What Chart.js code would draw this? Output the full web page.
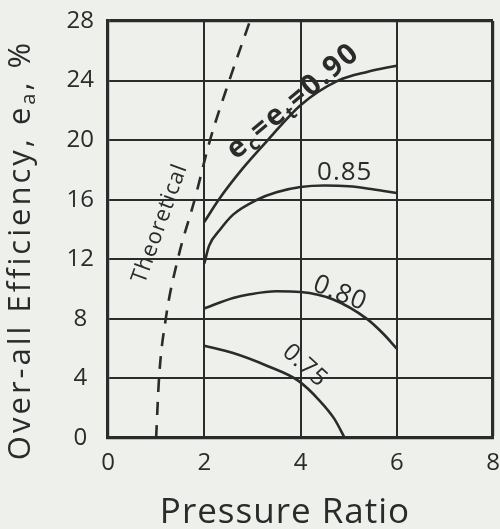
<!DOCTYPE html>
<html><head><meta charset="utf-8">
<script src="https://cdn.jsdelivr.net/npm/chart.js@4.4.1/dist/chart.umd.min.js"></script>
<style>html,body{margin:0;padding:0;background:#eef0ec;overflow:hidden}canvas{display:block}</style>
</head><body>
<canvas id="c" width="500" height="529"></canvas>
<script>
// ---- data ----
const xTickLabels = ['0','2','4','6','8'];
const yTickLabels = ['0','4','8','12','16','20','24','28'];
const theoreticalX = [1.0, 1.06, 1.2, 1.45, 1.8, 2.12, 2.52, 2.95];
const theoreticalY = [0, 4, 8, 12, 16, 20, 24, 28];
const eff90X = [2.0, 2.3, 2.8, 3.32, 4.0, 4.78, 5.4, 6.0];
const eff90Y = [14.5, 16.0, 18.1, 20.0, 22.35, 24.0, 24.6, 25.0];
const eff85X = [2.0, 2.1, 2.33, 2.6, 3.1, 3.5, 4.0, 4.5, 5.0, 5.5, 6.0];
const eff85Y = [11.7, 12.9, 14.0, 15.0, 16.0, 16.5, 16.85, 16.95, 16.9, 16.7, 16.45];
const eff80X = [2.0, 2.6, 2.95, 3.5, 4.0, 4.68, 5.38, 5.72, 6.0];
const eff80Y = [8.7, 9.4, 9.65, 9.85, 9.8, 9.3, 8.0, 7.0, 6.0];
const eff75X = [2.0, 2.6, 3.3, 3.95, 4.4, 4.7, 4.92];
const eff75Y = [6.2, 5.7, 4.85, 3.85, 2.5, 1.3, 0];

const ink = '#2b2b2b';
const pts = (xs, ys) => xs.map((x, i) => ({x, y: ys[i]}));
const lineDs = (xs, ys, dash) => ({
  data: pts(xs, ys), showLine: true, pointRadius: 0, borderColor: ink,
  borderWidth: 2.6, borderDash: dash || [], cubicInterpolationMode: 'monotone', fill: false
});

// ---- annotation texts (positions in data units) ----
const labels = [
  {parts: [['Theoretical', 0]], x: 1.08, y: 14.4, rot: -70, size: 22, weight: 'normal', ls: 1},
  {parts: [['e', 0], ['c', 1], ['=e', 0], ['t', 1], ['=0.90', 0]], x: 3.85, y: 22.6, rot: -40, size: 29, weight: 'bold', ls: 2},
  {parts: [['0.85', 0]], x: 4.92, y: 17.85, rot: 0, size: 26, weight: 'normal', ls: 1},
  {parts: [['0.80', 0]], x: 4.82, y: 9.7, rot: 22, size: 26, weight: 'normal', ls: 1},
  {parts: [['0.75', 0]], x: 4.09, y: 4.85, rot: 42, size: 24, weight: 'normal', ls: 1}
];
const FONT = '"Open Sans", "DejaVu Sans", sans-serif';

function drawParts(ctx, parts, cx, cy, rot, size, weight, ls) {
  ctx.save();
  ctx.translate(cx, cy);
  ctx.rotate(rot * Math.PI / 180);
  ctx.fillStyle = ink;
  ctx.textBaseline = 'middle';
  ctx.textAlign = 'left';
  if ('letterSpacing' in ctx) ctx.letterSpacing = (ls || 0) + 'px';
  const fontFor = (sub) => `${weight} ${sub ? Math.round(size * 0.65) : size}px ${FONT}`;
  let total = 0;
  for (const [t, sub] of parts) { ctx.font = fontFor(sub); total += ctx.measureText(t).width; }
  let x = -total / 2;
  for (const [t, sub] of parts) {
    ctx.font = fontFor(sub);
    ctx.fillText(t, x, sub ? size * 0.28 : 0);
    x += ctx.measureText(t).width;
  }
  ctx.restore();
}

const textPlugin = {
  id: 'texts',
  afterDraw(chart) {
    const ctx = chart.ctx;
    const xs = chart.scales.x, ys = chart.scales.y;
    for (const l of labels) {
      drawParts(ctx, l.parts, xs.getPixelForValue(l.x), ys.getPixelForValue(l.y), l.rot, l.size, l.weight, l.ls);
    }
    // axis titles
    drawParts(ctx, [['Over-all Efficiency, e', 0], ['a', 1], [', %', 0]], 21, 250, -90, 31, 'normal', 3);
    drawParts(ctx, [['Pressure Ratio', 0]], 285, 513, 0, 35, 'normal', 1);
  }
};

new Chart(document.getElementById('c'), {
  type: 'scatter',
  data: {
    datasets: [
      lineDs(theoreticalX, theoreticalY, [13, 10]),
      lineDs(eff90X, eff90Y),
      lineDs(eff85X, eff85Y),
      lineDs(eff80X, eff80Y),
      lineDs(eff75X, eff75Y)
    ]
  },
  options: {
    responsive: false,
    animation: false,
    layout: {padding: {top: 21, right: 7, left: 0, bottom: 0}},
    plugins: {legend: {display: false}, tooltip: {enabled: false}},
    scales: {
      x: {
        type: 'linear', min: 0, max: 8,
        afterFit: (s) => { s.height = 91; s.paddingLeft = 0; s.paddingRight = 0; },
        afterBuildTicks: (s) => { s.ticks = xTickLabels.map(v => ({value: +v})); },
        ticks: {color: ink, font: {family: FONT, size: 24}, padding: 11,
                callback: (v) => xTickLabels.includes(String(v)) ? String(v) : ''},
        grid: {color: ink, drawTicks: false,
               lineWidth: (c) => (c.tick && c.tick.value === 8) ? 3.2 : 2},
        border: {color: ink, width: 3.2},
        title: {display: false, text: 'Pressure Ratio'}
      },
      y: {
        type: 'linear', min: 0, max: 28,
        afterFit: (s) => { s.width = 108; s.paddingTop = 0; s.paddingBottom = 0; },
        afterBuildTicks: (s) => { s.ticks = yTickLabels.map(v => ({value: +v})); },
        ticks: {color: ink, font: {family: FONT, size: 24}, padding: 14, crossAlign: 'center',
                callback: (v) => yTickLabels.includes(String(v)) ? String(v) : ''},
        grid: {color: ink, drawTicks: false,
               lineWidth: (c) => (c.tick && c.tick.value === 28) ? 3.2 : 2},
        border: {color: ink, width: 3.2},
        title: {display: false, text: 'Over-all Efficiency, eₐ, %'}
      }
    }
  },
  plugins: [textPlugin]
});
</script>
</body></html>
